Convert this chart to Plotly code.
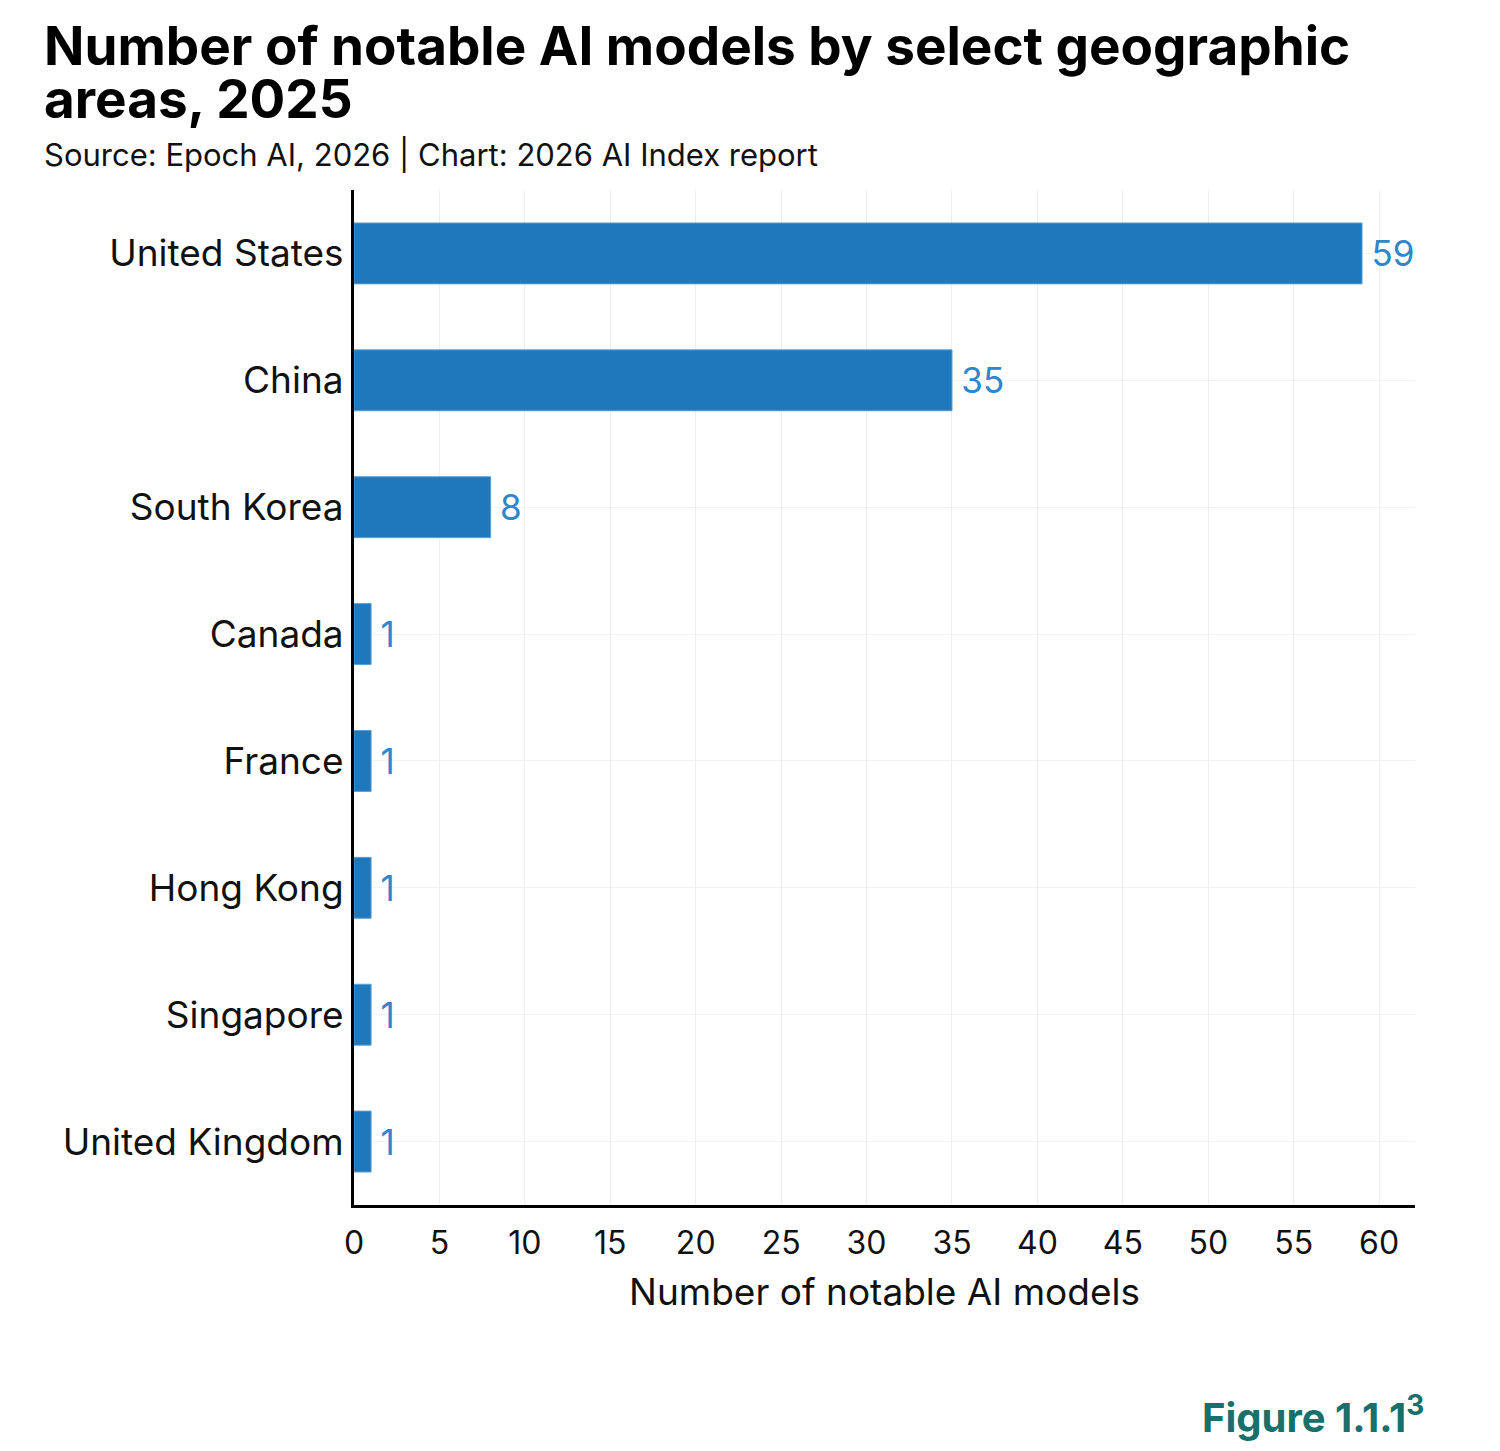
import plotly.graph_objects as go

countries = ["United States", "China", "South Korea", "Canada", "France",
             "Hong Kong", "Singapore", "United Kingdom"]
models = [59, 35, 8, 1, 1, 1, 1, 1]
x_ticks = [0, 5, 10, 15, 20, 25, 30, 35, 40, 45, 50, 55, 60]

FONT = "Inter"
PW, PH = 1061, 1015  # plot area size in px
L, T = 354, 190


def px_x(x):
    return (x - L) / PW


def px_y(y):
    return 1 - (y - T) / PH


fig = go.Figure(go.Bar(
    x=models, y=countries, orientation="h",
    marker=dict(color="#1f77bc", line=dict(color="#5a9fd6", width=1)),
    width=0.48,
    text=["\u2009" + str(v) for v in models], textposition="outside",
    textfont=dict(color="#2f86c9", size=35, family=FONT),
    cliponaxis=False,
))

fig.update_layout(
    width=1500, height=1451,
    margin=dict(l=L, r=85, t=T, b=246),
    plot_bgcolor="white", paper_bgcolor="white",
    font=dict(family=FONT, color="#111111"),
    showlegend=False,
    xaxis=dict(
        range=[0, 62.1], tickvals=x_ticks,
        showgrid=True, gridcolor="#eeeeee", gridwidth=1,
        showline=True, linecolor="black", linewidth=3,
        zeroline=False, ticks="", ticklabelstandoff=8,
        tickfont=dict(size=32, color="#111111"),
        title=dict(text="Number of notable AI models", font=dict(size=37, color="#111111"), standoff=18),
    ),
    yaxis=dict(
        categoryorder="array", categoryarray=countries[::-1],
        range=[-0.5, 7.5],
        showgrid=True, gridcolor="#f2f2f2", gridwidth=1,
        showline=True, linecolor="black", linewidth=3,
        ticks="", ticklabelstandoff=0,
        tickfont=dict(size=37, color="#111111"),
    ),
    annotations=[
        dict(text="<b>Number of notable AI models by select geographic</b>",
             xref="paper", yref="paper", x=px_x(42), y=px_y(46),
             xanchor="left", yanchor="middle", align="left", showarrow=False,
             font=dict(size=53, color="#000000", family=FONT)),
        dict(text="<b>areas, 2025</b>",
             xref="paper", yref="paper", x=px_x(42), y=px_y(99),
             xanchor="left", yanchor="middle", align="left", showarrow=False,
             font=dict(size=53, color="#000000", family=FONT)),
        dict(text="Source: Epoch AI, 2026 | Chart: 2026 AI Index report",
             xref="paper", yref="paper", x=px_x(42), y=px_y(155),
             xanchor="left", yanchor="middle", align="left", showarrow=False,
             font=dict(size=31, color="#111111", family=FONT)),
        dict(text="<b>Figure 1.1.1<sup>3</sup></b>",
             xref="paper", yref="paper", x=px_x(1426), y=px_y(1415),
             xanchor="right", yanchor="middle", showarrow=False,
             font=dict(size=40, color="#17706b", family=FONT)),
    ],
)

fig.write_html("out.html")
